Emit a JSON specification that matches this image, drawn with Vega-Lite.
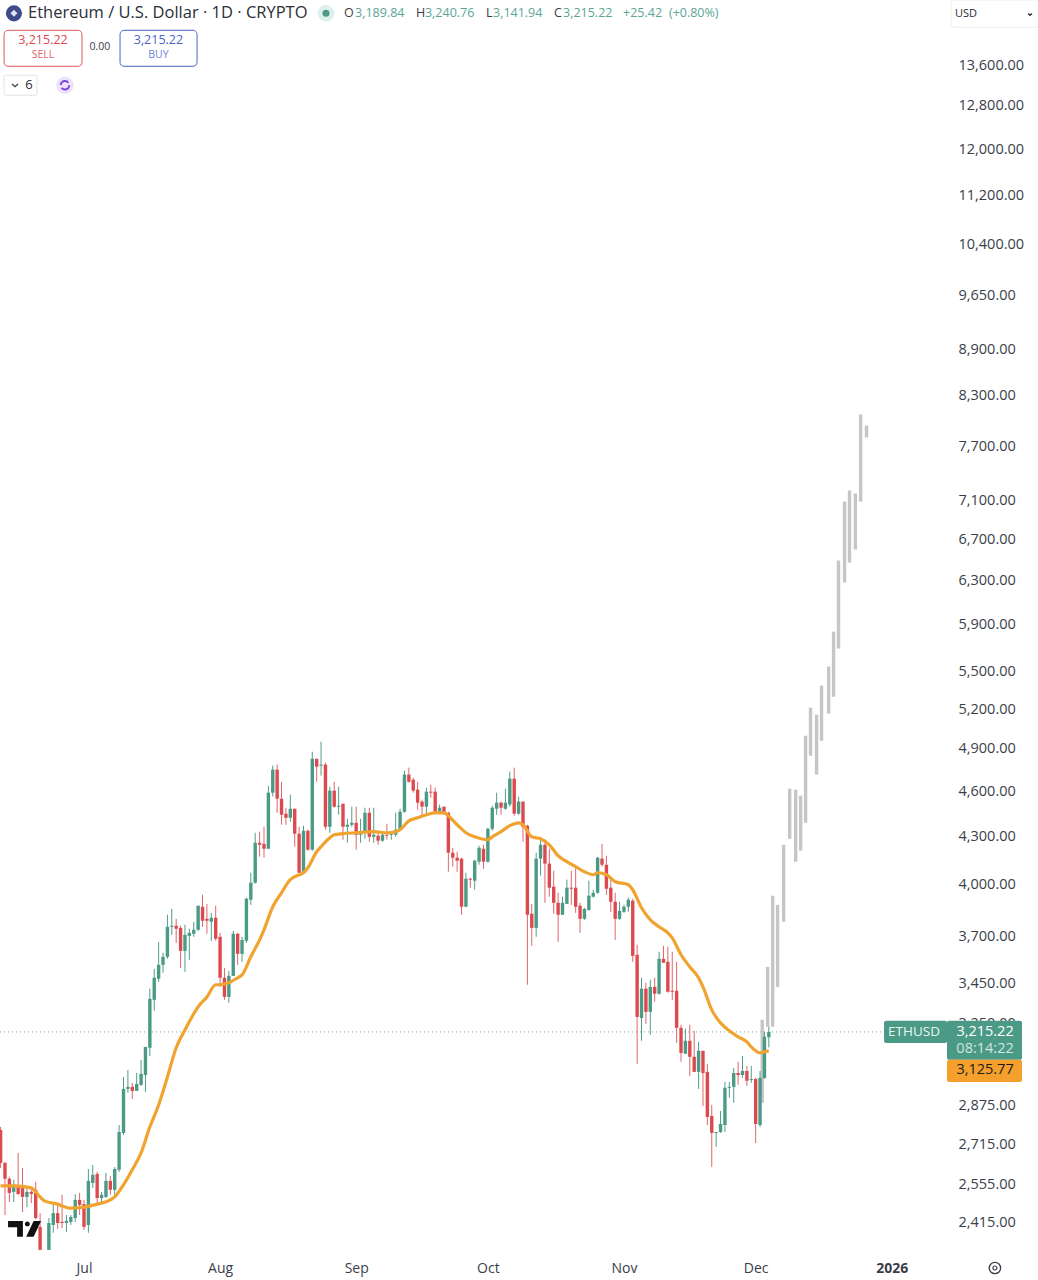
{
"$schema":"https://vega.github.io/schema/vega-lite/v6.json",
"width":949,"height":1250,"autosize":{"type":"none"},
"padding":{"left":0,"top":0,"right":89,"bottom":30},
"background":"#ffffff",
"config":{"view":{"stroke":null},"font":"Open Sans"},
"datasets":{
"candles":[
{"date":"2025-06-12","o":2777,"h":2790,"l":2624,"c":2644},
{"date":"2025-06-13","o":2644,"h":2648,"l":2446,"c":2582},
{"date":"2025-06-14","o":2582,"h":2590,"l":2494,"c":2528},
{"date":"2025-06-15","o":2532,"h":2578,"l":2494,"c":2559},
{"date":"2025-06-16","o":2551,"h":2684,"l":2521,"c":2524},
{"date":"2025-06-17","o":2547,"h":2624,"l":2457,"c":2513},
{"date":"2025-06-18","o":2513,"h":2551,"l":2475,"c":2532},
{"date":"2025-06-19","o":2532,"h":2547,"l":2490,"c":2524},
{"date":"2025-06-20","o":2540,"h":2570,"l":2430,"c":2435},
{"date":"2025-06-21","o":2403,"h":2453,"l":2322,"c":2322},
{"date":"2025-06-23","o":2322,"h":2435,"l":2322,"c":2417},
{"date":"2025-06-24","o":2410,"h":2483,"l":2382,"c":2453},
{"date":"2025-06-25","o":2453,"h":2483,"l":2396,"c":2417},
{"date":"2025-06-26","o":2421,"h":2521,"l":2399,"c":2417},
{"date":"2025-06-27","o":2417,"h":2446,"l":2385,"c":2425},
{"date":"2025-06-28","o":2421,"h":2446,"l":2410,"c":2439},
{"date":"2025-06-29","o":2435,"h":2524,"l":2421,"c":2502},
{"date":"2025-06-30","o":2502,"h":2528,"l":2446,"c":2483},
{"date":"2025-07-01","o":2486,"h":2502,"l":2392,"c":2403},
{"date":"2025-07-02","o":2410,"h":2620,"l":2382,"c":2574},
{"date":"2025-07-03","o":2566,"h":2636,"l":2547,"c":2597},
{"date":"2025-07-04","o":2601,"h":2609,"l":2483,"c":2509},
{"date":"2025-07-05","o":2509,"h":2532,"l":2494,"c":2521},
{"date":"2025-07-06","o":2513,"h":2605,"l":2509,"c":2574},
{"date":"2025-07-07","o":2574,"h":2593,"l":2521,"c":2540},
{"date":"2025-07-08","o":2540,"h":2628,"l":2521,"c":2620},
{"date":"2025-07-09","o":2617,"h":2798,"l":2609,"c":2769},
{"date":"2025-07-10","o":2765,"h":3006,"l":2756,"c":2953},
{"date":"2025-07-11","o":2953,"h":3038,"l":2936,"c":2962},
{"date":"2025-07-12","o":2962,"h":2980,"l":2909,"c":2944},
{"date":"2025-07-13","o":2944,"h":3024,"l":2944,"c":2975},
{"date":"2025-07-14","o":2971,"h":3084,"l":2966,"c":3020},
{"date":"2025-07-15","o":3015,"h":3144,"l":2940,"c":3144},
{"date":"2025-07-16","o":3140,"h":3430,"l":3102,"c":3378},
{"date":"2025-07-17","o":3373,"h":3533,"l":3318,"c":3486},
{"date":"2025-07-18","o":3481,"h":3678,"l":3465,"c":3554},
{"date":"2025-07-19","o":3554,"h":3619,"l":3512,"c":3597},
{"date":"2025-07-20","o":3597,"h":3830,"l":3586,"c":3762},
{"date":"2025-07-21","o":3762,"h":3864,"l":3717,"c":3768},
{"date":"2025-07-22","o":3768,"h":3807,"l":3672,"c":3751},
{"date":"2025-07-23","o":3756,"h":3768,"l":3538,"c":3629},
{"date":"2025-07-24","o":3629,"h":3773,"l":3517,"c":3717},
{"date":"2025-07-25","o":3711,"h":3751,"l":3581,"c":3728},
{"date":"2025-07-26","o":3723,"h":3790,"l":3706,"c":3745},
{"date":"2025-07-27","o":3745,"h":3882,"l":3739,"c":3882},
{"date":"2025-07-28","o":3876,"h":3946,"l":3762,"c":3796},
{"date":"2025-07-29","o":3807,"h":3893,"l":3723,"c":3796},
{"date":"2025-07-30","o":3790,"h":3841,"l":3684,"c":3813},
{"date":"2025-07-31","o":3813,"h":3882,"l":3684,"c":3695},
{"date":"2025-08-01","o":3706,"h":3728,"l":3439,"c":3486},
{"date":"2025-08-02","o":3486,"h":3538,"l":3373,"c":3388},
{"date":"2025-08-03","o":3388,"h":3522,"l":3358,"c":3496},
{"date":"2025-08-04","o":3496,"h":3739,"l":3496,"c":3723},
{"date":"2025-08-05","o":3723,"h":3728,"l":3554,"c":3613},
{"date":"2025-08-06","o":3613,"h":3706,"l":3570,"c":3689},
{"date":"2025-08-07","o":3684,"h":3929,"l":3672,"c":3923},
{"date":"2025-08-08","o":3917,"h":4078,"l":3887,"c":4018},
{"date":"2025-08-09","o":4018,"h":4329,"l":4012,"c":4265},
{"date":"2025-08-10","o":4265,"h":4336,"l":4177,"c":4252},
{"date":"2025-08-11","o":4258,"h":4368,"l":4171,"c":4227},
{"date":"2025-08-12","o":4227,"h":4644,"l":4227,"c":4596},
{"date":"2025-08-13","o":4596,"h":4786,"l":4569,"c":4757},
{"date":"2025-08-14","o":4757,"h":4793,"l":4460,"c":4555},
{"date":"2025-08-15","o":4555,"h":4672,"l":4381,"c":4447},
{"date":"2025-08-16","o":4454,"h":4494,"l":4381,"c":4427},
{"date":"2025-08-17","o":4427,"h":4583,"l":4401,"c":4487},
{"date":"2025-08-18","o":4487,"h":4487,"l":4240,"c":4323},
{"date":"2025-08-19","o":4323,"h":4368,"l":4078,"c":4078},
{"date":"2025-08-20","o":4078,"h":4375,"l":4078,"c":4342},
{"date":"2025-08-21","o":4342,"h":4349,"l":4214,"c":4221},
{"date":"2025-08-22","o":4221,"h":4886,"l":4214,"c":4835},
{"date":"2025-08-23","o":4835,"h":4835,"l":4672,"c":4778},
{"date":"2025-08-24","o":4786,"h":4960,"l":4715,"c":4793},
{"date":"2025-08-25","o":4793,"h":4807,"l":4349,"c":4368},
{"date":"2025-08-26","o":4368,"h":4637,"l":4329,"c":4610},
{"date":"2025-08-27","o":4610,"h":4672,"l":4494,"c":4501},
{"date":"2025-08-28","o":4501,"h":4637,"l":4447,"c":4508},
{"date":"2025-08-29","o":4521,"h":4521,"l":4284,"c":4368},
{"date":"2025-08-30","o":4368,"h":4420,"l":4265,"c":4381},
{"date":"2025-08-31","o":4381,"h":4501,"l":4368,"c":4394},
{"date":"2025-09-01","o":4394,"h":4501,"l":4221,"c":4316},
{"date":"2025-09-02","o":4316,"h":4420,"l":4265,"c":4336},
{"date":"2025-09-03","o":4329,"h":4494,"l":4290,"c":4460},
{"date":"2025-09-04","o":4460,"h":4494,"l":4271,"c":4303},
{"date":"2025-09-05","o":4303,"h":4494,"l":4265,"c":4316},
{"date":"2025-09-06","o":4310,"h":4329,"l":4252,"c":4278},
{"date":"2025-09-07","o":4278,"h":4329,"l":4271,"c":4316},
{"date":"2025-09-08","o":4316,"h":4388,"l":4284,"c":4310},
{"date":"2025-09-09","o":4316,"h":4329,"l":4284,"c":4323},
{"date":"2025-09-10","o":4316,"h":4460,"l":4303,"c":4349},
{"date":"2025-09-11","o":4349,"h":4487,"l":4342,"c":4467},
{"date":"2025-09-12","o":4467,"h":4750,"l":4460,"c":4722},
{"date":"2025-09-13","o":4722,"h":4771,"l":4665,"c":4672},
{"date":"2025-09-14","o":4686,"h":4700,"l":4596,"c":4610},
{"date":"2025-09-15","o":4617,"h":4672,"l":4481,"c":4528},
{"date":"2025-09-16","o":4535,"h":4549,"l":4434,"c":4501},
{"date":"2025-09-17","o":4501,"h":4631,"l":4447,"c":4603},
{"date":"2025-09-18","o":4603,"h":4651,"l":4562,"c":4596},
{"date":"2025-09-19","o":4603,"h":4631,"l":4460,"c":4467},
{"date":"2025-09-20","o":4467,"h":4515,"l":4460,"c":4494},
{"date":"2025-09-21","o":4501,"h":4501,"l":4447,"c":4454},
{"date":"2025-09-22","o":4460,"h":4467,"l":4084,"c":4202},
{"date":"2025-09-23","o":4202,"h":4233,"l":4115,"c":4171},
{"date":"2025-09-24","o":4171,"h":4208,"l":4084,"c":4152},
{"date":"2025-09-25","o":4165,"h":4171,"l":3830,"c":3876},
{"date":"2025-09-26","o":3876,"h":4078,"l":3876,"c":4042},
{"date":"2025-09-27","o":4042,"h":4048,"l":3988,"c":4036},
{"date":"2025-09-28","o":4030,"h":4158,"l":3976,"c":4152},
{"date":"2025-09-29","o":4146,"h":4246,"l":4127,"c":4233},
{"date":"2025-09-30","o":4227,"h":4252,"l":4102,"c":4146},
{"date":"2025-10-01","o":4146,"h":4362,"l":4140,"c":4355},
{"date":"2025-10-02","o":4355,"h":4508,"l":4342,"c":4494},
{"date":"2025-10-03","o":4487,"h":4596,"l":4447,"c":4528},
{"date":"2025-10-04","o":4528,"h":4535,"l":4447,"c":4494},
{"date":"2025-10-05","o":4487,"h":4624,"l":4481,"c":4528},
{"date":"2025-10-06","o":4515,"h":4743,"l":4501,"c":4693},
{"date":"2025-10-07","o":4693,"h":4771,"l":4440,"c":4454},
{"date":"2025-10-08","o":4454,"h":4569,"l":4447,"c":4535},
{"date":"2025-10-09","o":4535,"h":4535,"l":4271,"c":4368},
{"date":"2025-10-10","o":4375,"h":4381,"l":3450,"c":3830},
{"date":"2025-10-11","o":3836,"h":3893,"l":3656,"c":3756},
{"date":"2025-10-12","o":3756,"h":4202,"l":3706,"c":4165},
{"date":"2025-10-13","o":4165,"h":4297,"l":4060,"c":4252},
{"date":"2025-10-14","o":4252,"h":4284,"l":3899,"c":4134},
{"date":"2025-10-15","o":4134,"h":4227,"l":3935,"c":3988},
{"date":"2025-10-16","o":3994,"h":4090,"l":3836,"c":3899},
{"date":"2025-10-17","o":3899,"h":3958,"l":3678,"c":3830},
{"date":"2025-10-18","o":3830,"h":3935,"l":3830,"c":3899},
{"date":"2025-10-19","o":3893,"h":4036,"l":3893,"c":3988},
{"date":"2025-10-20","o":3988,"h":4090,"l":3887,"c":3982},
{"date":"2025-10-21","o":3988,"h":4115,"l":3841,"c":3876},
{"date":"2025-10-22","o":3882,"h":3899,"l":3728,"c":3807},
{"date":"2025-10-23","o":3807,"h":3870,"l":3801,"c":3864},
{"date":"2025-10-24","o":3858,"h":4030,"l":3852,"c":3941},
{"date":"2025-10-25","o":3935,"h":3976,"l":3929,"c":3958},
{"date":"2025-10-26","o":3958,"h":4175,"l":3952,"c":4171},
{"date":"2025-10-27","o":4165,"h":4258,"l":4115,"c":4127},
{"date":"2025-10-28","o":4127,"h":4183,"l":3946,"c":3982},
{"date":"2025-10-29","o":3988,"h":4036,"l":3847,"c":3905},
{"date":"2025-10-30","o":3905,"h":3958,"l":3689,"c":3807},
{"date":"2025-10-31","o":3807,"h":3905,"l":3801,"c":3852},
{"date":"2025-11-01","o":3847,"h":3887,"l":3841,"c":3876},
{"date":"2025-11-02","o":3876,"h":3929,"l":3847,"c":3917},
{"date":"2025-11-03","o":3911,"h":3923,"l":3570,"c":3602},
{"date":"2025-11-04","o":3608,"h":3662,"l":3066,"c":3288},
{"date":"2025-11-05","o":3283,"h":3486,"l":3173,"c":3430},
{"date":"2025-11-06","o":3430,"h":3460,"l":3254,"c":3313},
{"date":"2025-11-07","o":3313,"h":3476,"l":3202,"c":3439},
{"date":"2025-11-08","o":3439,"h":3486,"l":3363,"c":3404},
{"date":"2025-11-09","o":3404,"h":3624,"l":3399,"c":3586},
{"date":"2025-11-10","o":3586,"h":3656,"l":3565,"c":3565},
{"date":"2025-11-11","o":3570,"h":3651,"l":3409,"c":3414},
{"date":"2025-11-12","o":3419,"h":3624,"l":3373,"c":3414},
{"date":"2025-11-13","o":3419,"h":3570,"l":3163,"c":3235},
{"date":"2025-11-14","o":3235,"h":3250,"l":3075,"c":3116},
{"date":"2025-11-15","o":3112,"h":3230,"l":3112,"c":3173},
{"date":"2025-11-16","o":3173,"h":3250,"l":3011,"c":3098},
{"date":"2025-11-17","o":3098,"h":3221,"l":3029,"c":3029},
{"date":"2025-11-18","o":3029,"h":3168,"l":2953,"c":3126},
{"date":"2025-11-19","o":3126,"h":3126,"l":2878,"c":3024},
{"date":"2025-11-20","o":3029,"h":3066,"l":2798,"c":2832},
{"date":"2025-11-21","o":2836,"h":2883,"l":2628,"c":2765},
{"date":"2025-11-22","o":2765,"h":2769,"l":2708,"c":2769},
{"date":"2025-11-23","o":2769,"h":2857,"l":2765,"c":2802},
{"date":"2025-11-24","o":2798,"h":2984,"l":2769,"c":2958},
{"date":"2025-11-25","o":2958,"h":2984,"l":2914,"c":2962},
{"date":"2025-11-26","o":2962,"h":3047,"l":2892,"c":3024},
{"date":"2025-11-27","o":3024,"h":3075,"l":2971,"c":3015},
{"date":"2025-11-28","o":3015,"h":3102,"l":3002,"c":3033},
{"date":"2025-11-29","o":3033,"h":3056,"l":2966,"c":2989},
{"date":"2025-11-30","o":2993,"h":3056,"l":2980,"c":2997},
{"date":"2025-12-01","o":2997,"h":3002,"l":2724,"c":2802},
{"date":"2025-12-02","o":2798,"h":3033,"l":2790,"c":3002},
{"date":"2025-12-03","o":3002,"h":3216,"l":2997,"c":3192},
{"date":"2025-12-04","o":3189.84,"h":3240.76,"l":3141.94,"c":3215.22}
],
"ma":[
{"date":"2025-06-12","price":2555},{"date":"2025-06-15","price":2555},{"date":"2025-06-19","price":2547},{"date":"2025-06-20","price":2532},{"date":"2025-06-21","price":2513},{"date":"2025-06-22","price":2498},{"date":"2025-06-25","price":2486},{"date":"2025-06-28","price":2471},{"date":"2025-07-01","price":2475},{"date":"2025-07-04","price":2486},{"date":"2025-07-07","price":2502},{"date":"2025-07-08","price":2513},{"date":"2025-07-10","price":2559},{"date":"2025-07-12","price":2617},{"date":"2025-07-14","price":2684},{"date":"2025-07-16","price":2790},{"date":"2025-07-18","price":2883},{"date":"2025-07-20","price":3006},{"date":"2025-07-22","price":3140},{"date":"2025-07-24","price":3225},{"date":"2025-07-27","price":3338},{"date":"2025-07-29","price":3388},{"date":"2025-07-31","price":3450},{"date":"2025-08-01","price":3450},{"date":"2025-08-03","price":3460},{"date":"2025-08-05","price":3486},{"date":"2025-08-06","price":3501},{"date":"2025-08-08","price":3597},{"date":"2025-08-10","price":3689},{"date":"2025-08-11","price":3745},{"date":"2025-08-13","price":3876},{"date":"2025-08-15","price":3958},{"date":"2025-08-17","price":4036},{"date":"2025-08-18","price":4054},{"date":"2025-08-20","price":4078},{"date":"2025-08-21","price":4109},{"date":"2025-08-23","price":4208},{"date":"2025-08-24","price":4240},{"date":"2025-08-26","price":4297},{"date":"2025-08-27","price":4316},{"date":"2025-08-29","price":4323},{"date":"2025-09-01","price":4329},{"date":"2025-09-05","price":4336},{"date":"2025-09-08","price":4329},{"date":"2025-09-10","price":4336},{"date":"2025-09-11","price":4349},{"date":"2025-09-13","price":4407},{"date":"2025-09-15","price":4427},{"date":"2025-09-17","price":4447},{"date":"2025-09-19","price":4460},{"date":"2025-09-21","price":4460},{"date":"2025-09-22","price":4440},{"date":"2025-09-24","price":4381},{"date":"2025-09-26","price":4329},{"date":"2025-09-28","price":4303},{"date":"2025-10-01","price":4284},{"date":"2025-10-02","price":4303},{"date":"2025-10-04","price":4336},{"date":"2025-10-06","price":4375},{"date":"2025-10-08","price":4394},{"date":"2025-10-09","price":4381},{"date":"2025-10-11","price":4303},{"date":"2025-10-13","price":4290},{"date":"2025-10-15","price":4252},{"date":"2025-10-17","price":4183},{"date":"2025-10-19","price":4146},{"date":"2025-10-21","price":4115},{"date":"2025-10-23","price":4084},{"date":"2025-10-25","price":4066},{"date":"2025-10-26","price":4078},{"date":"2025-10-28","price":4066},{"date":"2025-10-30","price":4024},{"date":"2025-11-02","price":4006},{"date":"2025-11-03","price":3976},{"date":"2025-11-05","price":3870},{"date":"2025-11-07","price":3801},{"date":"2025-11-09","price":3762},{"date":"2025-11-11","price":3728},{"date":"2025-11-12","price":3700},{"date":"2025-11-14","price":3608},{"date":"2025-11-16","price":3543},{"date":"2025-11-18","price":3486},{"date":"2025-11-19","price":3439},{"date":"2025-11-21","price":3323},{"date":"2025-11-23","price":3259},{"date":"2025-11-25","price":3221},{"date":"2025-11-27","price":3192},{"date":"2025-11-29","price":3168},{"date":"2025-11-30","price":3144},{"date":"2025-12-01","price":3126},{"date":"2025-12-02","price":3116},{"date":"2025-12-03","price":3121},{"date":"2025-12-04","price":3125.77}
],
"proj":[
{"date":"2025-12-02T12:00:00Z","hi":3274,"lo":2892},
{"date":"2025-12-03T17:30:00Z","hi":3543,"lo":3240},
{"date":"2025-12-04T21:00:00Z","hi":3941,"lo":3240},
{"date":"2025-12-06T00:00:00Z","hi":3887,"lo":3439},
{"date":"2025-12-07T09:00:00Z","hi":4252,"lo":3790},
{"date":"2025-12-08T18:00:00Z","hi":4624,"lo":4290},
{"date":"2025-12-10T03:00:00Z","hi":4617,"lo":4146},
{"date":"2025-12-11T06:00:00Z","hi":4576,"lo":4214},
{"date":"2025-12-12T09:00:00Z","hi":5004,"lo":4394},
{"date":"2025-12-13T12:00:00Z","hi":5218,"lo":4857},
{"date":"2025-12-14T21:00:00Z","hi":5164,"lo":4722},
{"date":"2025-12-16T00:00:00Z","hi":5393,"lo":4967},
{"date":"2025-12-17T15:00:00Z","hi":5549,"lo":5172},
{"date":"2025-12-18T18:00:00Z","hi":5846,"lo":5304},
{"date":"2025-12-19T21:00:00Z","hi":6501,"lo":5700},
{"date":"2025-12-21T06:00:00Z","hi":7099,"lo":6290},
{"date":"2025-12-22T09:00:00Z","hi":7217,"lo":6481},
{"date":"2025-12-23T17:00:00Z","hi":7185,"lo":6608},
{"date":"2025-12-24T22:00:00Z","hi":8085,"lo":7099},
{"date":"2025-12-26T06:00:00Z","hi":7953,"lo":7812}
]
},
"encoding":{
"x":{"field":"date","type":"temporal","title":null,
"scale":{"type":"utc","padding":0,"domain":["2025-06-11T20:47:00Z","2026-01-14T01:00:00Z"]},
"axis":{"values":[{"year":2025,"month":"jul","date":1,"utc":true},{"year":2025,"month":"aug","date":1,"utc":true},{"year":2025,"month":"sep","date":1,"utc":true},{"year":2025,"month":"oct","date":1,"utc":true},{"year":2025,"month":"nov","date":1,"utc":true},{"year":2025,"month":"dec","date":1,"utc":true},{"year":2026,"month":"jan","date":1,"utc":true}],
"labelExpr":"utcFormat(datum.value,'%b')=='Jan'?'2026':utcFormat(datum.value,'%b')",
"grid":false,"domain":false,"ticks":false,"labelPadding":11,"labelFontSize":14,"labelColor":"#3a3e48","labelFont":"Open Sans","labelFlush":false,"labelOverlap":false,
"labelFontWeight":{"condition":{"test":"utcFormat(datum.value,'%Y')=='2026'","value":"bold"},"value":"normal"}}},
"y":{"field":"price","type":"quantitative","title":null,
"scale":{"type":"log","domain":[2321.5,15015],"nice":false,"zero":false},
"axis":{"orient":"right","values":[2415,2555,2715,2875,3250,3450,3700,4000,4300,4600,4900,5200,5500,5900,6300,6700,7100,7700,8300,8900,9650,10400,11200,12000,12800,13600],"format":",.2f","grid":false,"domain":false,"ticks":false,"labelPadding":9,"labelOffset":-1,"labelFontSize":14.5,"labelColor":"#3a3e48","labelFont":"Open Sans","labelOverlap":false,"labelFlush":false}}
},
"layer":[
{"data":{"values":[{"date":"2025-06-11T20:47:00Z","end":"2025-12-30T06:00:00Z","price":3215.22}]},
"mark":{"type":"rule","color":"#4a9a85","strokeWidth":1,"strokeDash":[1,3],"opacity":0.8},
"encoding":{"x2":{"field":"end"}}},
{"data":{"name":"proj"},"mark":{"type":"bar","width":3.4,"color":"#c6c6c6"},
"encoding":{"y":{"field":"hi","type":"quantitative","title":null},"y2":{"field":"lo"}}},
{"data":{"name":"candles"},"mark":{"type":"rule","strokeWidth":1},
"encoding":{"y":{"field":"h","type":"quantitative","title":null},"y2":{"field":"l"},
"color":{"condition":{"test":"datum.c>=datum.o","value":"#4f9e8a"},"value":"#e0656a"}}},
{"data":{"name":"candles"},"mark":{"type":"bar","width":3.4},
"encoding":{"y":{"field":"o","type":"quantitative","title":null},"y2":{"field":"c"},
"color":{"condition":{"test":"datum.c>=datum.o","value":"#4a9a85"},"value":"#dc4a50"}}},
{"data":{"name":"ma"},"mark":{"type":"line","color":"#f0a32f","strokeWidth":3.2,"interpolate":"monotone"},"encoding":{}},
{"data":{"values":[{"date":"2025-06-17T11:00:00Z","price":2396}]},
"mark":{"type":"point","filled":true,"color":"#111111","opacity":1,"size":1089,"shape":"M-1,-0.48H-0.1V0.48H-0.45V-0.1H-1Z M0.02,-0.3a0.15,0.15 0 1,0 0.3,0a0.15,0.15 0 1,0 -0.3,0Z M0.55,-0.48H1L0.55,0.48H0.1Z"},"encoding":{}},
{"data":{"values":[{"date":"2025-06-15T01:00:00Z","price":14719}]},
"mark":{"type":"point","filled":true,"color":"#3f4a8a","opacity":1,"size":260,"shape":"circle"},"encoding":{}},
{"data":{"values":[{"date":"2025-06-15T01:00:00Z","price":14719}]},
"mark":{"type":"point","filled":true,"color":"#dfe3f5","opacity":1,"size":50,"shape":"diamond"},"encoding":{}},
{"data":{"values":[{"date":"2025-06-18T06:00:00Z","price":14719,"label":"Ethereum / U.S. Dollar · 1D · CRYPTO"}]},
"mark":{"type":"text","align":"left","baseline":"middle","fontSize":16.5,"color":"#2a2e39","font":"Open Sans"},"encoding":{"text":{"field":"label"}}},
{"data":{"values":[{"date":"2025-08-25T03:00:00Z","price":14719}]},
"mark":{"type":"point","filled":true,"color":"#dff0ec","opacity":1,"size":280,"shape":"circle"},"encoding":{}},
{"data":{"values":[{"date":"2025-08-25T03:00:00Z","price":14719}]},
"mark":{"type":"point","filled":true,"color":"#4a9a85","opacity":1,"size":50,"shape":"circle"},"encoding":{}},
{"data":{"values":[
{"date":"2025-08-29T05:30:00Z","price":14719,"label":"O"},
{"date":"2025-09-14T15:00:00Z","price":14719,"label":"H"},
{"date":"2025-09-30T14:00:00Z","price":14719,"label":"L"},
{"date":"2025-10-16T01:00:00Z","price":14719,"label":"C"}]},
"mark":{"type":"text","align":"left","baseline":"middle","fontSize":12.5,"color":"#3a3e48","font":"Open Sans"},"encoding":{"text":{"field":"label"}}},
{"data":{"values":[
{"date":"2025-08-31T18:00:00Z","price":14719,"label":"3,189.84"},
{"date":"2025-09-16T16:00:00Z","price":14719,"label":"3,240.76"},
{"date":"2025-10-02T04:00:00Z","price":14719,"label":"3,141.94"},
{"date":"2025-10-18T03:00:00Z","price":14719,"label":"3,215.22"},
{"date":"2025-10-31T19:00:00Z","price":14719,"label":"+25.42"},
{"date":"2025-11-11T06:00:00Z","price":14719,"label":"(+0.80%)"}]},
"mark":{"type":"text","align":"left","baseline":"middle","fontSize":12.5,"color":"#5ba594","font":"Open Sans"},"encoding":{"text":{"field":"label"}}},
{"data":{"values":[{"date":"2025-06-12T19:00:00Z","end":"2025-06-30T13:00:00Z","price":14351,"price2":13600}]},
"mark":{"type":"rect","fill":"#ffffff","stroke":"#e0565b","strokeWidth":1,"cornerRadius":4},
"encoding":{"x2":{"field":"end"},"y2":{"field":"price2"}}},
{"data":{"values":[{"date":"2025-07-09T05:00:00Z","end":"2025-07-26T18:00:00Z","price":14351,"price2":13600}]},
"mark":{"type":"rect","fill":"#ffffff","stroke":"#4a63c4","strokeWidth":1,"cornerRadius":4},
"encoding":{"x2":{"field":"end"},"y2":{"field":"price2"}}},
{"data":{"values":[{"date":"2025-06-21T16:00:00Z","price":14138,"label":"3,215.22"}]},
"mark":{"type":"text","align":"center","baseline":"middle","fontSize":12.5,"color":"#dc4a50","font":"Open Sans"},"encoding":{"text":{"field":"label"}}},
{"data":{"values":[{"date":"2025-06-21T16:00:00Z","price":13825,"label":"SELL"}]},
"mark":{"type":"text","align":"center","baseline":"middle","fontSize":10.5,"color":"#e0656a","font":"Open Sans"},"encoding":{"text":{"field":"label"}}},
{"data":{"values":[{"date":"2025-07-04T15:00:00Z","price":13991,"label":"0.00"}]},
"mark":{"type":"text","align":"center","baseline":"middle","fontSize":10.5,"color":"#3a3e48","font":"Open Sans"},"encoding":{"text":{"field":"label"}}},
{"data":{"values":[{"date":"2025-07-17T23:00:00Z","price":14138,"label":"3,215.22"}]},
"mark":{"type":"text","align":"center","baseline":"middle","fontSize":12.5,"color":"#4a63c4","font":"Open Sans"},"encoding":{"text":{"field":"label"}}},
{"data":{"values":[{"date":"2025-07-17T23:00:00Z","price":13825,"label":"BUY"}]},
"mark":{"type":"text","align":"center","baseline":"middle","fontSize":10.5,"color":"#6f84d6","font":"Open Sans"},"encoding":{"text":{"field":"label"}}},
{"data":{"values":[{"date":"2025-06-12T19:00:00Z","end":"2025-06-20T07:00:00Z","price":13418,"price2":13024}]},
"mark":{"type":"rect","fill":"#ffffff","stroke":"#e0e3eb","strokeWidth":1,"cornerRadius":2},
"encoding":{"x2":{"field":"end"},"y2":{"field":"price2"}}},
{"data":{"values":[{"date":"2025-06-15T07:00:00Z","price":13220}]},
"mark":{"type":"point","filled":false,"color":"#3a3e48","opacity":1,"strokeWidth":1.3,"size":36,"shape":"M-1,-0.4L0,0.5L1,-0.4"},"encoding":{}},
{"data":{"values":[{"date":"2025-06-18T11:00:00Z","price":13220,"label":"6"}]},
"mark":{"type":"text","align":"center","baseline":"middle","fontSize":13,"color":"#2a2e39","font":"Open Sans"},"encoding":{"text":{"field":"label"}}},
{"data":{"values":[{"date":"2025-06-26T16:00:00Z","price":13220}]},
"mark":{"type":"point","filled":true,"color":"#ece3fb","opacity":1,"size":300,"shape":"circle"},"encoding":{}},
{"data":{"values":[{"date":"2025-06-26T16:00:00Z","price":13220}]},
"mark":{"type":"point","filled":false,"color":"#7a3fe0","opacity":1,"strokeWidth":2,"size":70,"shape":"circle","strokeDash":[10,3]},"encoding":{}},
{"data":{"values":[{"date":"2026-01-14T12:00:00Z","end":"2026-02-05T00:00:00Z","price":15015,"price2":14416}]},
"mark":{"type":"rect","fill":"#ffffff","stroke":"#eeeeee","strokeWidth":1,"cornerRadius":3},
"encoding":{"x2":{"field":"end"},"y2":{"field":"price2"}}},
{"data":{"values":[{"date":"2026-01-15T10:00:00Z","price":14698,"label":"USD"}]},
"mark":{"type":"text","align":"left","baseline":"middle","fontSize":11,"color":"#2a2e39","font":"Open Sans"},"encoding":{"text":{"field":"label"}}},
{"data":{"values":[{"date":"2026-02-01T12:00:00Z","price":14698}]},
"mark":{"type":"point","filled":false,"color":"#2a2e39","opacity":1,"strokeWidth":1.3,"size":16,"shape":"M-1,-0.4L0,0.5L1,-0.4"},"encoding":{}},
{"data":{"values":[{"date":"2025-12-30T06:00:00Z","end":"2026-01-13T14:00:00Z","price":3269,"price2":3163}]},
"mark":{"type":"rect","fill":"#4a9a85","cornerRadius":2},
"encoding":{"x2":{"field":"end"},"y2":{"field":"price2"}}},
{"data":{"values":[{"date":"2026-01-06T02:00:00Z","price":3215.22,"label":"ETHUSD"}]},
"mark":{"type":"text","align":"center","baseline":"middle","fontSize":13.5,"color":"#e9f5f1","font":"Open Sans"},"encoding":{"text":{"field":"label"}}},
{"data":{"values":[{"date":"2026-01-13T14:00:00Z","end":"2026-01-30T16:00:00Z","price":3269,"price2":3084}]},
"mark":{"type":"rect","fill":"#4a9a85","cornerRadius":2},
"encoding":{"x2":{"field":"end"},"y2":{"field":"price2"}}},
{"data":{"values":[{"date":"2026-01-13T14:00:00Z","end":"2026-01-30T16:00:00Z","price":3084,"price2":2984}]},
"mark":{"type":"rect","fill":"#f5a02c","cornerRadius":2},
"encoding":{"x2":{"field":"end"},"y2":{"field":"price2"}}},
{"data":{"values":[{"date":"2026-01-22T06:00:00Z","price":3215.22,"label":"3,215.22"}]},
"mark":{"type":"text","align":"center","baseline":"middle","fontSize":14.5,"color":"#ffffff","font":"Open Sans"},"encoding":{"text":{"field":"label"}}},
{"data":{"values":[{"date":"2026-01-22T06:00:00Z","price":3135,"label":"08:14:22"}]},
"mark":{"type":"text","align":"center","baseline":"middle","fontSize":14.5,"color":"#cfe6df","font":"Open Sans"},"encoding":{"text":{"field":"label"}}},
{"data":{"values":[{"date":"2026-01-22T06:00:00Z","price":3038,"label":"3,125.77"}]},
"mark":{"type":"text","align":"center","baseline":"middle","fontSize":14.5,"color":"#1c1c1c","font":"Open Sans"},"encoding":{"text":{"field":"label"}}},
{"data":{"values":[{"date":"2026-01-24T12:00:00Z","price":2260}]},
"mark":{"type":"point","filled":false,"color":"#3a3e48","opacity":1,"strokeWidth":1.3,"size":130,"shape":"circle"},"encoding":{}},
{"data":{"values":[{"date":"2026-01-24T12:00:00Z","price":2260}]},
"mark":{"type":"point","filled":false,"color":"#3a3e48","opacity":1,"strokeWidth":1.2,"size":16,"shape":"circle"},"encoding":{}}
]
}
